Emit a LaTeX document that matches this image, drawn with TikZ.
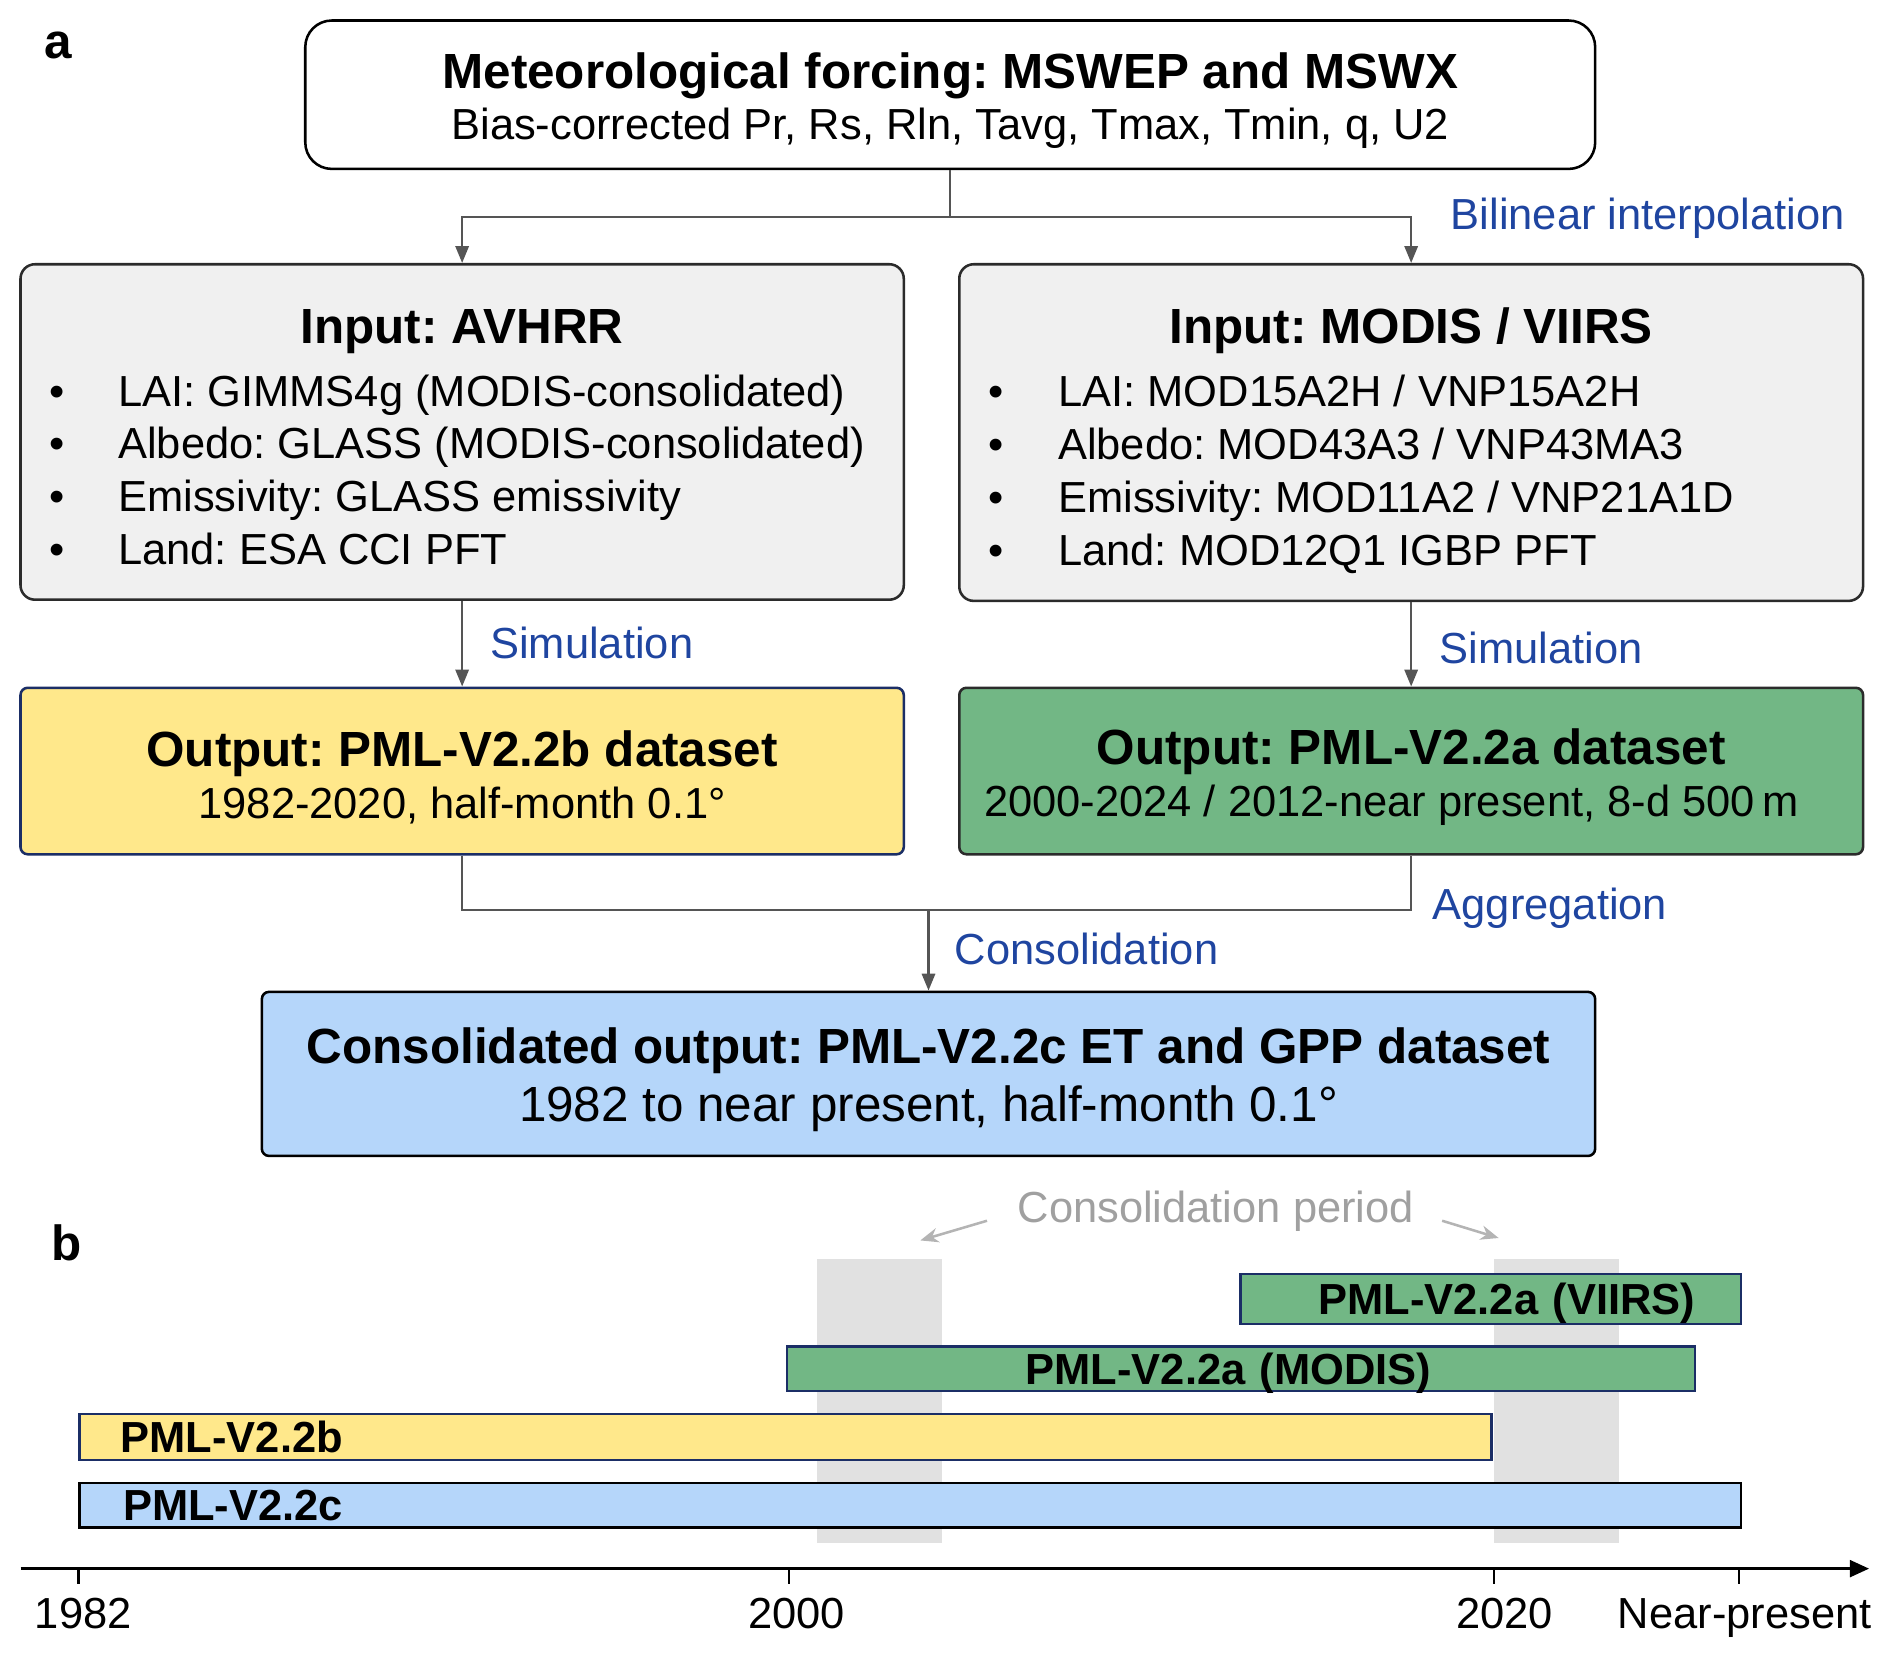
\documentclass[tikz,border=0pt]{standalone}
\usepackage{fontspec}
\setmainfont{Liberation Sans}
\usepackage{array}
\frenchspacing
\definecolor{inGray}{HTML}{F0F0F0}
\definecolor{outYellow}{HTML}{FFE88B}
\definecolor{outGreen}{HTML}{72B785}
\definecolor{outBlue}{HTML}{B5D6FA}
\definecolor{labelBlue}{HTML}{1F45A0}
\definecolor{lineGray}{HTML}{555555}
\definecolor{bandGray}{HTML}{E1E1E1}
\definecolor{periodGray}{HTML}{A0A0A0}
\definecolor{arrowGray}{HTML}{B4B4B4}
\definecolor{edgeNavy}{HTML}{1B2E66}
\definecolor{edgeDark}{HTML}{2B2B2B}
\usetikzlibrary{arrows.meta, positioning, calc}

\newcommand{\headsize}{\fontsize{23.3}{28}\selectfont}
\newcommand{\bodysize}{\fontsize{20.5}{24.9}\selectfont}
\newcommand{\toppad}{\rule{0pt}{22.5pt}}

\tikzset{
  box/.style={rectangle, draw=edgeDark, line width=1.2pt, align=center, inner sep=0pt, font=\bodysize},
  conn/.style={draw=lineGray, line width=1.1pt},
  flow/.style={-{Triangle[length=2.8mm, width=2.2mm]}},
  steplabel/.style={text=labelBlue, font=\bodysize, anchor=base west, inner sep=0pt},
  band/.style={fill=bandGray, inner sep=0pt, minimum width=20.6mm, minimum height=47mm, anchor=north west},
  bar/.style={draw=edgeNavy, line width=1.1pt, font=\bodysize\bfseries, inner ysep=0pt,
              text height=14.7pt, text depth=0pt, anchor=west},
  periodarrow/.style={draw=arrowGray, line width=1.2pt, -{Stealth[length=3mm, width=2.4mm]}},
  timeaxis/.style={line width=1.3pt, -{Triangle[length=3.2mm, width=2.8mm]}},
  yearlabel/.style={font=\bodysize, anchor=base, inner sep=0pt},
}

\begin{document}
\begin{tikzpicture}[x=0.2mm, y=-0.2mm]
  \useasboundingbox (0,0) rectangle (1568,1372);

  % panel a: workflow
  \node[font=\headsize\bfseries, inner sep=0pt] (panelA) at (48,38) {a};

  \node[box, draw=black, rounded corners=4.4mm, minimum width=213.8mm, minimum height=24.6mm] (met) at (787.5,78.5)
    {{\toppad\headsize\bfseries Meteorological forcing: MSWEP and MSWX}\\[-0.5pt]
     Bias-corrected Pr, Rs, Rln, Tavg, Tmax, Tmin, q, U2};

  \node[box, fill=inGray, rounded corners=2.4mm, minimum width=146.4mm, minimum height=55.6mm] (avhrr) at (383,358) {%
    \begin{tabular}{@{}p{11.4mm}@{}p{125.4mm}@{}}
      \multicolumn{2}{@{}c@{}}{\rule{0pt}{28.2pt}\headsize\bfseries Input: AVHRR}\\[4.7pt]
      \textbullet & LAI: GIMMS4g (MODIS-consolidated)\\
      \textbullet & Albedo: GLASS (MODIS-consolidated)\\
      \textbullet & Emissivity: GLASS emissivity\\
      \textbullet & Land: ESA CCI PFT
    \end{tabular}};

  \node[box, fill=inGray, rounded corners=2.4mm, minimum width=149.8mm, minimum height=55.8mm] (modis) at (1169.5,358.5) {%
    \begin{tabular}{@{}p{11.6mm}@{}p{128.6mm}@{}}
      \multicolumn{2}{@{}c@{}}{\rule{0pt}{28.2pt}\headsize\bfseries Input: MODIS / VIIRS}\\[4.7pt]
      \textbullet & LAI: MOD15A2H / VNP15A2H\\
      \textbullet & Albedo: MOD43A3 / VNP43MA3\\
      \textbullet & Emissivity: MOD11A2 / VNP21A1D\\
      \textbullet & Land: MOD12Q1 IGBP PFT
    \end{tabular}};

  \node[box, fill=outYellow, draw=edgeNavy, rounded corners=1.2mm, minimum width=146.4mm, minimum height=27.6mm] (pmlb) at (383,639)
    {{\toppad\headsize\bfseries Output: PML-V2.2b dataset}\\[-0.4pt] 1982-2020, half-month 0.1°};
  \node[box, fill=outGreen, rounded corners=1.2mm, minimum width=149.8mm, minimum height=27.6mm] (pmla) at (1169.5,639)
    {{\toppad\headsize\bfseries Output: PML-V2.2a dataset}\\[-0.4pt] 2000-2024 / 2012-near present, 8-d 500\,m\kern6.6mm};
  \node[box, fill=outBlue, draw=black, rounded corners=1.2mm, minimum width=221mm, minimum height=27.2mm] (pmlc) at (769.5,890)
    {{\toppad\headsize\bfseries Consolidated output: PML-V2.2c ET and GPP dataset}\\[2.4pt]
     {\headsize 1982 to near present, half-month 0.1°}};

  % connectors
  \draw[conn] (met.south) -- (met.south |- 0,180) coordinate (split);
  \draw[conn, flow] (split) -| (avhrr.north);
  \draw[conn, flow] (split) -| (modis.north);
  \draw[conn, flow] (avhrr) -- (pmlb);
  \draw[conn, flow] (modis) -- (pmla);
  \draw[conn] (pmlb.south) -- (pmlb.south |- 0,754) -| (pmla.south);
  \draw[conn, flow] (pmlc.north |- 0,754) -- (pmlc.north);

  \node[steplabel] (interp) at (1202,190) {Bilinear interpolation};
  \node[steplabel] (simL) at (406,546) {Simulation};
  \node[steplabel] (simR) at (1193,550) {Simulation};
  \node[steplabel] (aggr) at (1187,762) {Aggregation};
  \node[steplabel] (consol) at (791,799) {Consolidation};

  % panel b: time line
  \node[font=\headsize\bfseries, inner sep=0pt] (panelB) at (55,1030) {b};

  \node[band] (bandA) at (677,1043) {};
  \node[band] (bandB) at (1238,1043) {};

  \node[font=\bodysize, text=periodGray, anchor=base west, inner sep=0pt] (period) at (843,1013) {Consolidation period};
  \draw[periodarrow] ([shift={(-25,8)}]period.west) -- ([shift={(-18,-15)}]bandA.north east);
  \draw[periodarrow] ([shift={(23,8)}]period.east) -- ([shift={(4,-17)}]bandB.north west);

  \node[bar, fill=outGreen, minimum width=83mm, minimum height=8.2mm, inner xsep=7.6mm, text width=67.8mm, align=right]
    (viirs) at (1027,1076.5) {PML-V2.2a (VIIRS)};
  \node[bar, fill=outGreen, minimum width=150.6mm, minimum height=7.4mm, inner xsep=39.6mm, text width=71.4mm, align=left]
    (modisbar) at (651,1134.5) {PML-V2.2a (MODIS)};
  \node[bar, fill=outYellow, minimum width=234mm, minimum height=7.6mm, inner xsep=6.8mm, text width=220.4mm, align=left]
    (v22b) at (65,1191) {PML-V2.2b};
  \node[bar, fill=outBlue, draw=black, minimum width=275.4mm, minimum height=7.4mm, inner xsep=7.2mm, text width=261mm, align=left]
    (v22c) at (65,1247.5) {PML-V2.2c};

  \draw[timeaxis] (17,1300) -- (1549,1300);
  \foreach \yr/\x/\lx in {1982/65/69, 2000/654/660, 2020/1238/1247} {
    \draw[line width=1.1pt] (\x,1300) -- (\x,1313);
    \node[yearlabel] (tick\yr) at (\lx,1350) {\yr};
  }
  \draw[line width=1.1pt] (1441,1300) -- (1441,1313);
  \node[yearlabel] (tickNear) at (1446,1350) {Near-present};
\end{tikzpicture}
\end{document}
